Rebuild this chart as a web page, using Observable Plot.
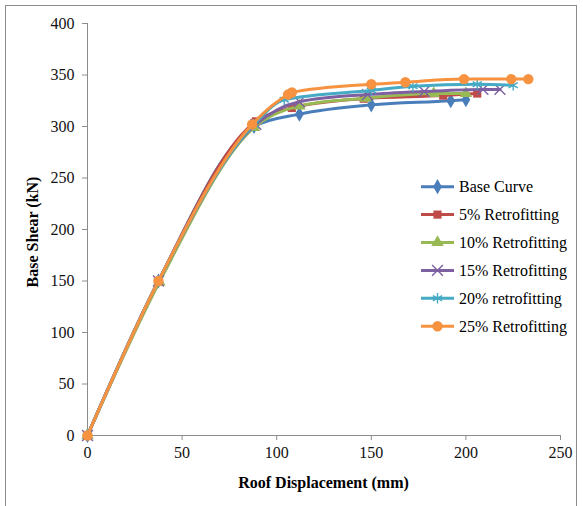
<!DOCTYPE html>
<html><head><meta charset="utf-8">
<script src="https://cdn.jsdelivr.net/npm/d3@7"></script>
<script src="https://cdn.jsdelivr.net/npm/@observablehq/plot@0.6"></script>
<style>
body{margin:0;width:583px;height:506px;overflow:hidden;background:#fff;position:relative;font-family:"Liberation Serif","Times New Roman",serif;color:#000;}
#frame{position:absolute;left:5px;top:5px;width:572px;height:520px;border:1px solid #8c8c8c;box-sizing:border-box;}
#chart{position:absolute;left:0;top:0;}
#xtitle{position:absolute;left:87px;width:473px;top:474px;text-align:center;font-weight:bold;font-size:16px;}
#ytitle{position:absolute;left:33px;top:232px;transform:translate(-50%,-50%) rotate(-90deg);white-space:nowrap;font-weight:bold;font-size:16px;}
#legend{position:absolute;left:0;top:0;}
</style></head>
<body>
<div id="frame"></div>
<div id="chart"></div>
<div id="xtitle">Roof Displacement (mm)</div>
<div id="ytitle">Base Shear (kN)</div>
<svg id="legend" width="583" height="506"></svg>
<script>
// ---- data ----
const seriesNames = ["Base Curve","5% Retrofitting","10% Retrofitting","15% Retrofitting","20% retrofitting","25% Retrofitting"];
const seriesColors = ["#4A7EBB","#BE4B48","#98B954","#7D60A0","#46AAC5","#F69240"];
const seriesSymbols = ["diamond","square","triangle","times","asterisk","circle"];

const baseX = [0, 37.5, 88, 112, 150, 192, 200];
const baseY = [0, 150, 300, 312, 321, 325, 326];
const r5X = [0, 37.5, 89, 108, 146, 188, 206];
const r5Y = [0, 150, 305, 318, 327, 330, 332];
const r10X = [0, 38, 88, 112, 147, 183, 200];
const r10Y = [0, 149, 299, 320, 327.5, 332, 332];
const r15X = [0, 37.5, 89, 112, 148, 178, 209, 218];
const r15Y = [0, 150, 302, 324, 331, 334, 336, 336];
const r20X = [0, 37.5, 88, 104, 150, 172, 206, 225];
const r20Y = [0, 150, 302, 326, 335, 339, 341, 340];
const r25X = [0, 37.5, 87, 106, 108, 150, 168, 199, 224, 233];
const r25Y = [0, 150, 302, 331, 333, 341, 343, 346, 346, 346];

const xTicks = [0, 50, 100, 150, 200, 250];
const yTicks = [0, 50, 100, 150, 200, 250, 300, 350, 400];

const allX = [baseX, r5X, r10X, r15X, r20X, r25X];
const allY = [baseY, r5Y, r10Y, r15Y, r20Y, r25Y];

const tables = allX.map((xs, i) => xs.map((x, j) => ({series: seriesNames[i], x, y: allY[i][j]})));

const marks = [];
tables.forEach((data, i) => {
  const col = seriesColors[i];
  const sym = seriesSymbols[i];
  marks.push(Plot.line(data, {x: "x", y: "y", curve: "monotone-x", stroke: col, strokeWidth: 3}));
  const stroked = (sym === "times" || sym === "asterisk");
  marks.push(Plot.dot(data, {
    x: "x", y: "y", symbol: () => sym,
    r: sym === "circle" ? 5.2 : (stroked ? 5 : 4.6),
    fill: stroked ? "none" : col,
    stroke: stroked ? col : "none",
    strokeWidth: stroked ? 1.4 : 0
  }));
});

const chart = Plot.plot({
  width: 583, height: 506,
  marginLeft: 87, marginRight: 23, marginTop: 23, marginBottom: 71,
  style: {fontFamily: '"Liberation Serif","Times New Roman",serif', fontSize: "16px", background: "transparent", color: "#000"},
  x: {domain: [0, 250]},
  y: {domain: [0, 400]},
  symbol: {type: "identity"},
  marks: [
    Plot.axisX({ticks: xTicks, tickSize: 5, tickPadding: 6, stroke: "#8c8c8c", fill: "#111", label: null, tickFormat: d => d}),
    Plot.axisY({ticks: yTicks, tickSize: 5, tickPadding: 8, stroke: "#8c8c8c", fill: "#111", label: null, tickFormat: d => d}),
    Plot.ruleX([0], {stroke: "#8c8c8c", strokeWidth: 1}),
    Plot.ruleY([0], {stroke: "#8c8c8c", strokeWidth: 1}),
    ...marks
  ]
});
document.getElementById("chart").appendChild(chart);

// ---- legend ----
const lg = d3.select("#legend");
const symMap = {diamond: d3.symbolDiamond, square: d3.symbolSquare, triangle: d3.symbolTriangle, times: d3.symbolTimes, asterisk: d3.symbolAsterisk, circle: d3.symbolCircle};
seriesNames.forEach((name, i) => {
  const cy = 186.7 + i * 27.9;
  const g = lg.append("g");
  g.append("line").attr("x1", 421).attr("x2", 454).attr("y1", cy).attr("y2", cy)
    .attr("stroke", seriesColors[i]).attr("stroke-width", 3);
  const sym = seriesSymbols[i];
  const stroked = (sym === "times" || sym === "asterisk");
  const r = sym === "circle" ? 5.2 : (stroked ? 5 : 4.6);
  g.append("path").attr("d", d3.symbol(symMap[sym], Math.PI * r * r)())
    .attr("transform", `translate(437.5,${cy})`)
    .attr("fill", stroked ? "none" : seriesColors[i])
    .attr("stroke", stroked ? seriesColors[i] : "none")
    .attr("stroke-width", stroked ? 1.4 : 0);
  g.append("text").attr("x", 459).attr("y", cy).attr("dy", "0.35em")
    .attr("font-family", '"Liberation Serif","Times New Roman",serif')
    .attr("font-size", 16).attr("fill", "#000").text(name);
});
</script>
</body></html>
